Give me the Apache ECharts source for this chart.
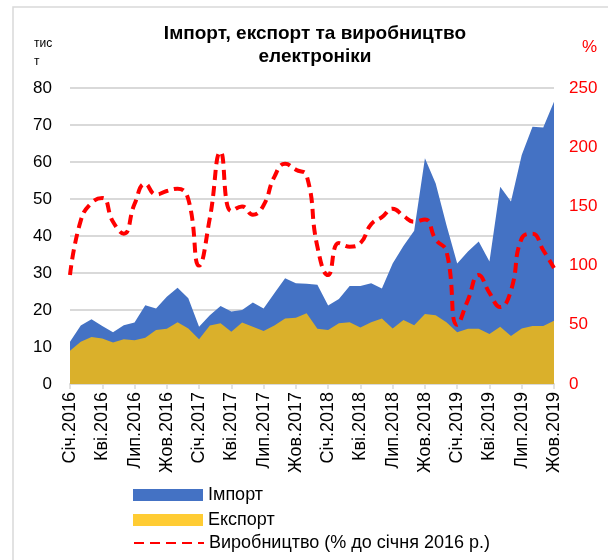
<!DOCTYPE html>
<html>
<head>
<meta charset="utf-8">
<script src="https://cdn.jsdelivr.net/npm/echarts@6/dist/echarts.min.js"></script>
<style>
  html, body { margin: 0; padding: 0; background: #fff; }
  #main { width: 608px; height: 560px; }
</style>
</head>
<body>
<div id="main"></div>
<script>
// місяці: Січ.2016 ... Жов.2019
const monthNames = ['Січ', 'Лют', 'Бер', 'Кві', 'Тра', 'Чер', 'Лип', 'Сер', 'Вер', 'Жов', 'Лис', 'Гру'];
const months = [];
for (let y = 2016; y <= 2019; y++) {
    for (let m = 0; m < 12; m++) {
        if (y === 2019 && m > 9) break;
        months.push(monthNames[m] + '.' + y);
    }
}

// тис. т
const importVals = [11.4, 15.8, 17.5, 15.7, 14.0, 15.9, 16.6, 21.3, 20.4, 23.6,
    26.0, 23.2, 15.5, 18.6, 21.1, 19.6, 20.0, 22.0, 20.4, 24.5,
    28.6, 27.2, 27.1, 26.8, 21.2, 23.0, 26.5, 26.5, 27.2, 25.8,
    32.6, 37.3, 41.4, 61.0, 54.2, 43.0, 32.6, 35.8, 38.5, 33.1,
    53.3, 49.3, 61.9, 69.5, 69.3, 76.3];
const exportVals = [9.0, 11.4, 12.7, 12.3, 11.2, 12.1, 11.8, 12.5, 14.6, 14.9,
    16.7, 15.0, 12.1, 15.8, 16.4, 14.1, 16.6, 15.5, 14.3, 15.8,
    17.7, 17.9, 19.1, 14.9, 14.6, 16.4, 16.7, 15.3, 16.7, 17.7,
    15.0, 17.3, 15.9, 18.9, 18.6, 16.7, 14.0, 14.9, 14.9, 13.5,
    15.5, 13.0, 15.0, 15.7, 15.7, 17.1];
// % до січня 2016 р.
const productionVals = [92, 138, 153, 157, 137, 127, 152, 169, 160, 163,
    165, 156, 100, 140, 196, 146, 150, 143, 151, 175,
    186, 181, 176, 116, 92, 119, 116, 119, 135, 141,
    148, 142, 137, 139, 122, 112, 50, 71, 92, 77,
    65, 79, 123, 127, 113, 98];

const chart = echarts.init(document.getElementById('main'));
const font = 'Arial, "Liberation Sans", sans-serif';

function legendAt(top, item) {
    return {
        left: 128,
        top: top,
        itemWidth: 70,
        itemHeight: 12,
        itemGap: 5,
        textStyle: { fontSize: 18, color: '#000', fontFamily: font },
        data: [item]
    };
}

const option = {
    animation: false,
    textStyle: { fontFamily: font },
    title: {
        text: 'Імпорт, експорт та виробництво\nелектроніки',
        left: 310,
        textAlign: 'center',
        top: 17,
        textStyle: { fontSize: 19, fontWeight: 'bold', color: '#000', lineHeight: 23, fontFamily: font }
    },
    graphic: [
        { type: 'rect', shape: { x: 13, y: 7, width: 800, height: 800 }, style: { fill: 'none', stroke: '#d9d9d9', lineWidth: 1.5 }, silent: true },
        { type: 'text', left: 34, top: 35, style: { text: 'тис\nт', fontSize: 12, lineHeight: 18, fill: '#000', align: 'center', fontFamily: font }, silent: true },
        { type: 'text', left: 582, top: 39, style: { text: '%', fontSize: 17, fill: '#ff0000', fontFamily: font }, silent: true }
    ],
    legend: [
        legendAt(481, { name: 'Імпорт', icon: 'rect', itemStyle: { color: '#4472c4' } }),
        legendAt(506, { name: 'Експорт', icon: 'rect', itemStyle: { color: '#ffcc33' } }),
        legendAt(529, { name: 'Виробництво (% до січня 2016 р.)', itemStyle: { opacity: 0 } })
    ],
    grid: { left: 70, right: 54, top: 88, bottom: 176 },
    xAxis: {
        type: 'category',
        data: months,
        boundaryGap: false,
        axisLine: { lineStyle: { color: '#d9d9d9', width: 2 } },
        axisTick: { show: true, interval: 2, length: 5, lineStyle: { color: '#d9d9d9', width: 1.5 } },
        axisLabel: { interval: 2, rotate: 90, fontSize: 18, color: '#000', margin: 8, fontFamily: font },
        splitLine: { show: false }
    },
    yAxis: [
        {
            type: 'value', min: 0, max: 80, interval: 10,
            axisLine: { show: false }, axisTick: { show: false },
            axisLabel: { fontSize: 17, color: '#000', margin: 18, fontFamily: font },
            splitLine: { lineStyle: { color: '#d9d9d9', width: 2 } }
        },
        {
            type: 'value', min: 0, max: 250, interval: 50,
            axisLine: { show: false }, axisTick: { show: false },
            axisLabel: { fontSize: 17, color: '#ff0000', margin: 15, fontFamily: font },
            splitLine: { show: false }
        }
    ],
    series: [
        {
            name: 'Імпорт',
            type: 'line',
            data: importVals,
            symbol: 'none',
            lineStyle: { width: 0 },
            itemStyle: { color: '#4472c4' },
            areaStyle: { color: '#4472c4', opacity: 1 },
            z: 1
        },
        {
            name: 'Експорт',
            type: 'line',
            data: exportVals,
            symbol: 'none',
            lineStyle: { width: 0 },
            itemStyle: { color: '#dab02b' },
            areaStyle: { color: '#dab02b', opacity: 1 },
            z: 2
        },
        {
            name: 'Виробництво (% до січня 2016 р.)',
            type: 'line',
            yAxisIndex: 1,
            data: productionVals,
            symbol: 'none',
            smooth: 0.5,
            itemStyle: { color: '#ff0000' },
            lineStyle: { color: '#ff0000', width: 4, type: [10, 6] },
            z: 3
        }
    ]
};
chart.setOption(option);
</script>
</body>
</html>
